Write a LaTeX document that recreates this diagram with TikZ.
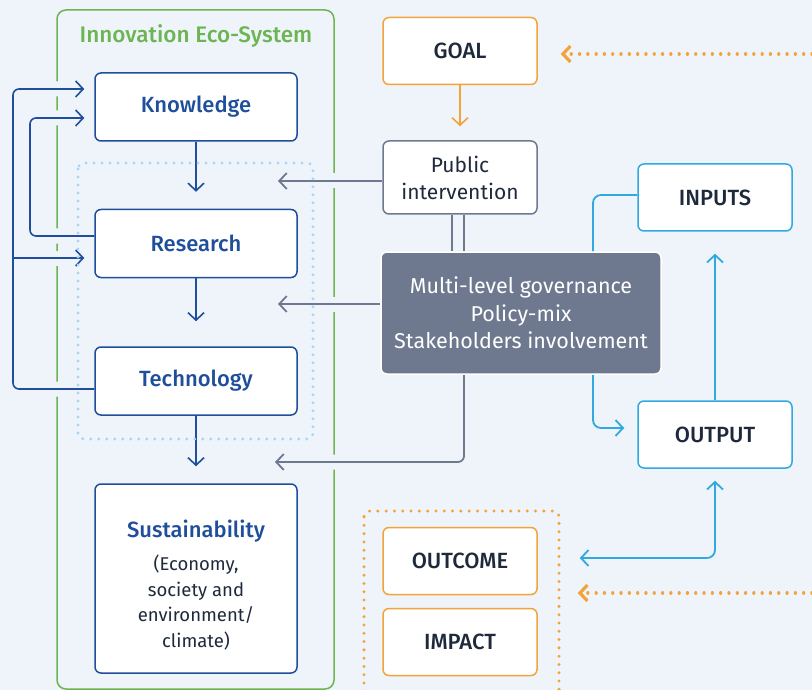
\documentclass[tikz,border=0pt]{standalone}
\usepackage{fontspec}
\setmainfont{Fira Sans}[BoldFont={Fira Sans Medium}]
\usetikzlibrary{arrows.meta}
\definecolor{bgc}{HTML}{EFF4FB}
\definecolor{ecogreen}{HTML}{6CB552}
\definecolor{ecoblue}{HTML}{1F4E9B}
\definecolor{ink}{HTML}{1E2A3C}
\definecolor{govgray}{HTML}{6E7990}
\definecolor{goalorange}{HTML}{F2A33A}
\definecolor{flowcyan}{HTML}{2FA9E0}
\definecolor{dotblue}{HTML}{A9D7F3}
\pgfdeclarelayer{back}
\pgfdeclarelayer{wires}
\pgfdeclarelayer{dots}
\pgfsetlayers{back,wires,dots,main}
\tikzset{
  box/.style={draw, fill=white, rounded corners=6pt, line width=1.5pt, align=center, inner sep=2pt, text=ink},
  ecobox/.style={box, draw=ecoblue, text=ecoblue, font=\bfseries\fontsize{22}{26}\selectfont, minimum width=202pt, minimum height=68pt},
  goalbox/.style={box, draw=goalorange, font=\bfseries\fontsize{22}{26}\selectfont, minimum width=154pt, minimum height=67pt},
  flowbox/.style={box, draw=flowcyan, font=\bfseries\fontsize{22}{26}\selectfont, minimum width=154pt, minimum height=67pt},
  pubbox/.style={box, draw=govgray, font=\fontsize{21}{27}\selectfont, minimum width=154pt, minimum height=73pt},
  govbox/.style={box, draw=white, fill=govgray, text=white, font=\fontsize{21.5}{27.5}\selectfont, minimum width=280pt, minimum height=122pt},
  halo/.style={preaction={draw=bgc, line width=15pt, -, line cap=butt}},
  ecowire/.style={ecoblue, line width=1.6pt, rounded corners=6pt, ->},
  govwire/.style={govgray, line width=1.8pt, rounded corners=6pt},
  flowwire/.style={flowcyan, line width=1.8pt, rounded corners=8pt},
  goalwire/.style={goalorange, line width=1.6pt},
  orangedots/.style={goalorange, line width=3.2pt, line cap=round, dash pattern=on 0.1pt off 8.2pt},
  bluedots/.style={dotblue, line width=3.2pt, line cap=round, dash pattern=on 0.1pt off 7.9pt}
}
\begin{document}
\begin{tikzpicture}[x=1pt,y=-1pt,line join=round,line cap=round,>={Straight Barb[length=7.5pt,width=16pt]}]
\useasboundingbox (0,0) rectangle (812,690);
\begin{pgfonlayer}{back}
  \fill[bgc] (0,0) rectangle (812,690);
  \draw[ecogreen, line width=1.5pt, rounded corners=9pt] (57,10) rectangle (334,689);
\end{pgfonlayer}

% innovation eco-system
\node[text=ecogreen, font=\bfseries\fontsize{22.5}{26}\selectfont] (ecotitle) at (196,36) {Innovation Eco-System};
\node[ecobox] (know) at (196,107) {Knowledge};
\node[ecobox] (res) at (196,243.5) {Research};
\node[ecobox] (tech) at (196,381) {Technology};
\node[ecobox, minimum height=189pt, text=ink, font=\fontsize{18.5}{25.5}\selectfont] (sust) at (196,578.5)
  {\rule{0pt}{30pt}{\bfseries\color{ecoblue}\fontsize{22}{26}\selectfont Sustainability}\\[8pt](Economy,\\society and\\environment/\\climate)};

% policy side
\node[goalbox] (goal) at (460,51) {GOAL};
\node[pubbox] (pub) at (460,177.5) {Public\\intervention};
\node[govbox] (gov) at (521,313) {Multi-level governance\\Policy-mix\\Stakeholders involvement};
\node[flowbox] (inp) at (715,197.5) {INPUTS};
\node[flowbox] (outp) at (715,434.5) {OUTPUT};
\node[goalbox] (outc) at (460,561) {OUTCOME};
\node[goalbox] (imp) at (460,642) {IMPACT};

% free ends
\coordinate (loopout) at (13,0);
\coordinate (loopin) at (30,0);
\coordinate (kntop) at ([xshift=-10pt,yshift=18pt]know.west);
\coordinate (knbot) at ([xshift=-10pt,yshift=-11pt]know.west);
\coordinate (restip) at ([xshift=-10pt,yshift=-14.5pt]res.west);
\coordinate (pubtip) at (278,181);
\coordinate (govtip) at (278,304);
\coordinate (susttip) at (275,462);
\coordinate (goalsrc) at (812,54);
\coordinate (outcsrc) at (812,593);

\begin{pgfonlayer}{wires}
  \draw[ecowire, shorten >=17pt] (know) -- (res);
  \draw[ecowire, shorten >=25pt] (res) -- (tech);
  \draw[ecowire, shorten >=17pt] (tech) -- (sust);
  \draw[ecowire, halo] ([yshift=-8pt]tech.west) -| (loopout |- kntop) -- (kntop);
  \draw[ecowire, preaction={draw=bgc, line width=15pt, -, line cap=butt, shorten <=12pt}] (loopout |- restip) -- (restip);
  \draw[ecowire, halo] ([yshift=7.5pt]res.west) -| (loopin |- knbot) -- (knbot);
  \draw[govwire, halo, ->] (pubtip -| pub.west) -- (pubtip);
  \draw[govwire, halo, ->] (govtip -| gov.west) -- (govtip);
  \draw[govwire, halo, ->] ([xshift=-57pt]gov.south) |- (susttip);
  \draw[govwire] ([xshift=-8pt]pub.south) -- ([xshift=-8pt]pub.south |- gov.north);
  \draw[govwire] ([xshift=4pt]pub.south) -- ([xshift=4pt]pub.south |- gov.north);
  \draw[goalwire, ->, shorten >=14pt] (goal) -- (pub);
  \draw[flowwire] ([xshift=72pt]gov.north) |- ([yshift=2.5pt]inp.west);
  \draw[flowwire, ->, shorten >=13pt] ([xshift=72pt]gov.south) |- ([yshift=6.5pt]outp.west);
  \draw[flowwire, ->, shorten >=22pt] (outp) -- (inp);
  \draw[flowwire, <->, shorten <=12pt, shorten >=42pt] (outp.south) |- ([yshift=3pt]outc.east);
\end{pgfonlayer}

\begin{pgfonlayer}{dots}
  \draw[bluedots, rounded corners=6pt] (78,163) rectangle (313,439);
  \draw[orangedots, rounded corners=6pt] (364,511) rectangle (559,720);
  \draw[orangedots, ->, shorten >=23pt] (goalsrc) -- (goalsrc -| goal.east);
  \draw[orangedots, ->, shorten >=40pt] (outcsrc) -- (outcsrc -| outc.east);
\end{pgfonlayer}
\end{tikzpicture}
\end{document}
